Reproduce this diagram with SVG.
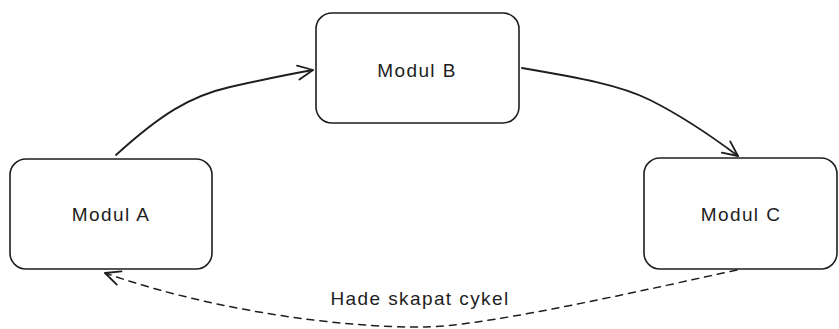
<svg xmlns="http://www.w3.org/2000/svg" width="839" height="329" viewBox="0 0 839 329">
  <style>
    .box { fill: #ffffff; stroke: #1e1e1e; stroke-width: 1.6; }
    .label { font-family: "Liberation Sans", Arial, sans-serif; font-size: 19px; fill: #1e1e1e; letter-spacing: 1.4px; text-anchor: middle; }
    .edge { fill: none; stroke: #1e1e1e; stroke-width: 1.8; stroke-linecap: round; }
    .dashed { stroke-dasharray: 7 6; stroke-width: 1.5; }
  </style>
  <defs>
    <marker id="arrow" viewBox="0 0 20 20" refX="18" refY="10" markerWidth="20" markerHeight="20" markerUnits="userSpaceOnUse" orient="auto">
      <path d="M3,3 L18,10 L3,17" fill="none" stroke="#1e1e1e" stroke-width="1.8" stroke-linecap="round" stroke-linejoin="round"/>
    </marker>
  </defs>

  <rect width="839" height="329" fill="#ffffff"/>

  <g id="connectors">
    <path class="edge" d="M116,155 C160,115 190,96 230,87 S290,74 313,70" marker-end="url(#arrow)"/>
    <path class="edge" d="M522,68 C580,78 620,85 650,100 S710,135 738,156" marker-end="url(#arrow)"/>
    <path class="edge dashed" d="M737,270 C600,300 480,326 425,327 C340,328 210,310 105,273" marker-end="url(#arrow)"/>
    <text class="label" x="420" y="305">Hade skapat cykel</text>
  </g>

  <g id="modul-a">
    <rect class="box" x="10" y="159" width="202" height="110" rx="16"/>
    <text class="label" x="111" y="221">Modul A</text>
  </g>

  <g id="modul-b">
    <rect class="box" x="316" y="13" width="203" height="110" rx="16"/>
    <text class="label" x="417" y="77">Modul B</text>
  </g>

  <g id="modul-c">
    <rect class="box" x="644" y="158" width="193" height="111" rx="16"/>
    <text class="label" x="741" y="221">Modul C</text>
  </g>
</svg>
